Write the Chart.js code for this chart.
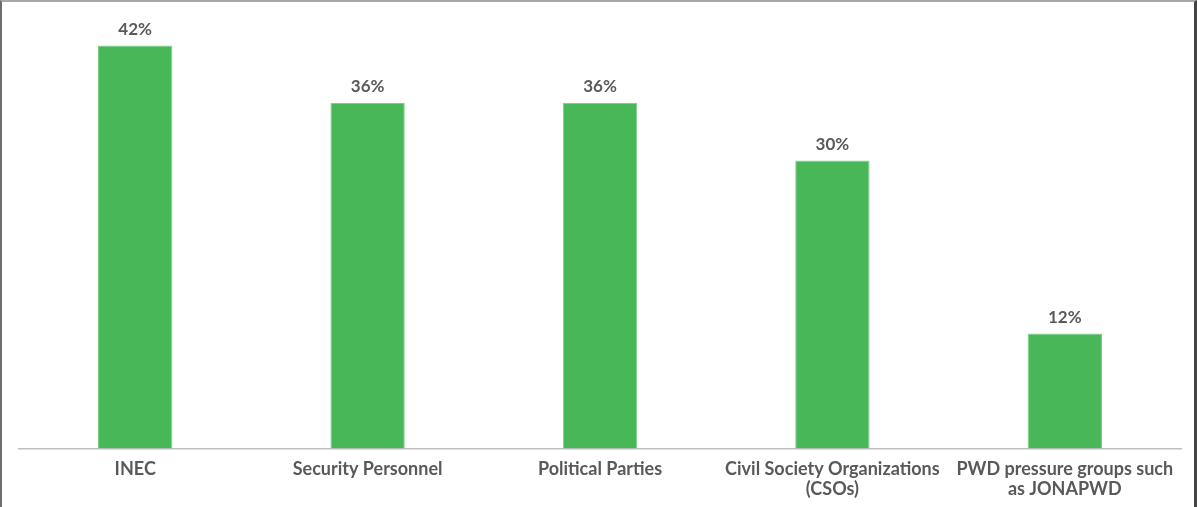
<!DOCTYPE html>
<html>
<head>
<meta charset="utf-8">
<script src="https://cdn.jsdelivr.net/npm/chart.js@4.4.1/dist/chart.umd.min.js"></script>
<style>
  html, body { margin: 0; padding: 0; background: #fff; }
  #wrap { position: relative; width: 1197px; height: 507px; }
  #frame { position: absolute; left: 0; top: 0; width: 1197px; height: 507px; box-sizing: border-box;
           border-top: 2px solid #a6a6a6; border-left: 2px solid #6e6e6e; border-right: 3px solid #444; pointer-events: none; }
</style>
</head>
<body>
<div id="wrap">
  <canvas id="c" width="1197" height="507"></canvas>
  <div id="frame"></div>
</div>
<script>
const categories = [
  'INEC',
  'Security Personnel',
  'Political Parties',
  ['Civil Society Organizations', '(CSOs)'],
  ['PWD pressure groups such', 'as JONAPWD']
];
const shares = [42, 36, 36, 30, 12];

const textColor = '#595959';
const fontFamily = 'Lato, "Open Sans", sans-serif';

// Percentage labels above each bar
const valueLabels = {
  id: 'valueLabels',
  afterDatasetsDraw(chart) {
    const ctx = chart.ctx;
    const meta = chart.getDatasetMeta(0);
    ctx.save();
    ctx.fillStyle = textColor;
    ctx.font = 'bold 17px ' + fontFamily;
    ctx.textAlign = 'center';
    ctx.textBaseline = 'middle';
    meta.data.forEach((bar, i) => {
      ctx.fillText(shares[i] + '%', bar.x, bar.y - 16);
    });
    ctx.restore();
  }
};

new Chart(document.getElementById('c'), {
  type: 'bar',
  data: {
    labels: categories,
    datasets: [{
      data: shares,
      backgroundColor: '#47b757',
      borderColor: '#7fcf88',
      borderWidth: 1,
      barPercentage: 0.32,
      categoryPercentage: 1
    }]
  },
  options: {
    responsive: false,
    animation: false,
    layout: { padding: { top: 7, left: 19, right: 16, bottom: 5 } },
    plugins: { legend: { display: false }, tooltip: { enabled: false } },
    scales: {
      y: { display: false, min: 0, max: 46 },
      x: {
        grid: { display: false },
        border: { color: '#bfbfbf', width: 1.5 },
        ticks: {
          color: textColor,
          font: { family: fontFamily, size: 18, weight: 'bold', lineHeight: 1.15 },
          padding: 2,
          maxRotation: 0,
          autoSkip: false
        }
      }
    }
  },
  plugins: [valueLabels]
});
</script>
</body>
</html>
